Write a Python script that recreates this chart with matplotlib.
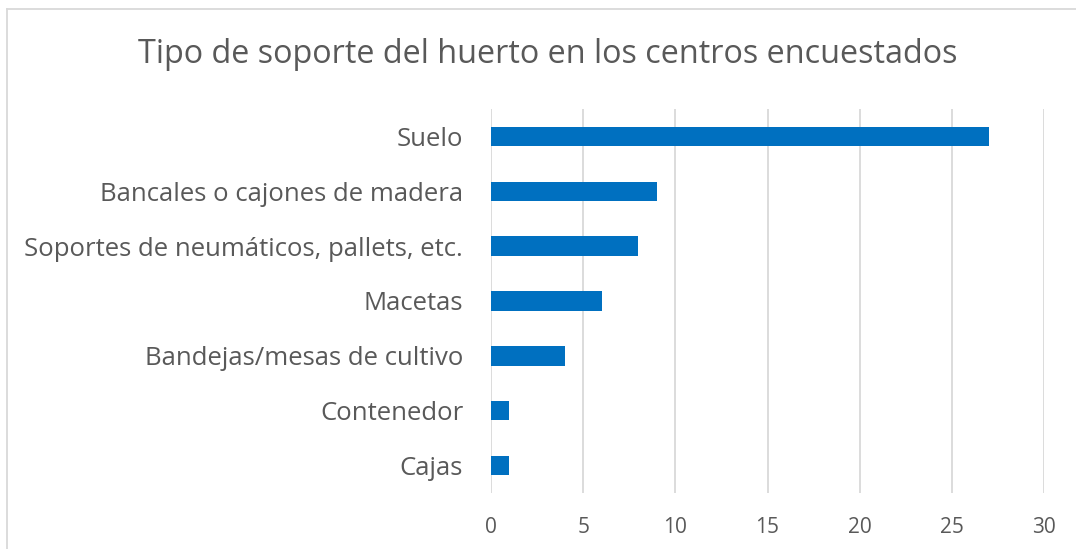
import matplotlib.pyplot as plt
from matplotlib.lines import Line2D

# datos
categorias = ["Suelo", "Bancales o cajones de madera", "Soportes de neumáticos, pallets, etc.",
              "Macetas", "Bandejas/mesas de cultivo", "Contenedor", "Cajas"]
valores = [27, 9, 8, 6, 4, 1, 1]
ticks_x = [0, 5, 10, 15, 20, 25, 30]
titulo = "Tipo de soporte del huerto en los centros encuestados"

GRIS_TEXTO = "#595959"
GRIS_LINEA = "#d9d9d9"
AZUL = "#0070C0"

plt.rcParams['font.family'] = ['Open Sans', 'DejaVu Sans']

fig = plt.figure(figsize=(10.76, 5.49), dpi=100)
ax = fig.add_axes([491 / 1076, 1 - 493 / 549, (1044 - 491) / 1076, (493 - 109) / 549])

pos = list(range(len(categorias)))
ax.barh(pos, valores, height=0.355, color=AZUL, zorder=3)

ax.set_xlim(0, 30)
ax.set_ylim(len(categorias) - 0.5, -0.5)
ax.set_xticks(ticks_x)
ax.set_xticklabels([str(t) for t in ticks_x])
ax.set_yticks(pos)
ax.set_yticklabels(categorias)

ax.grid(axis='x', color=GRIS_LINEA, linewidth=1.3, zorder=0)
ax.grid(axis='y', visible=False)
for s in ax.spines.values():
    s.set_visible(False)

ax.tick_params(axis='x', length=0, pad=17, labelsize=15, labelcolor=GRIS_TEXTO)
ax.tick_params(axis='y', length=0, pad=20, labelsize=18.5, labelcolor=GRIS_TEXTO)

fig.text(548 / 1076, 1 - 63 / 549, titulo, ha='center', va='baseline',
         fontsize=23.3, color=GRIS_TEXTO)

# borde del area del grafico (solo izquierda y arriba visibles)
fig.add_artist(Line2D([7 / 1076, 7 / 1076], [0, 1 - 9 / 549], transform=fig.transFigure,
                      color=GRIS_LINEA, linewidth=1.3))
fig.add_artist(Line2D([7 / 1076, 1], [1 - 9 / 549, 1 - 9 / 549], transform=fig.transFigure,
                      color=GRIS_LINEA, linewidth=1.3))

fig.savefig("out.png", dpi=100)
